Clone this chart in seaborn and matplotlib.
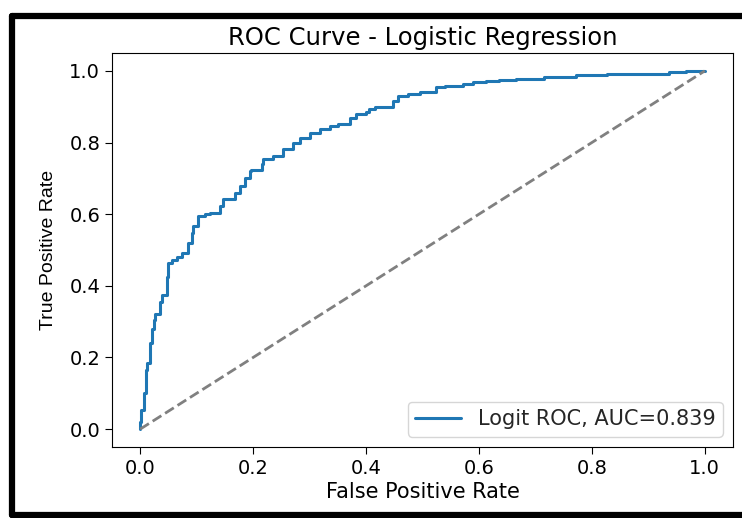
# ROC curve for the logistic regression model
import numpy as np
import pandas as pd
import matplotlib
matplotlib.use("Agg")
import matplotlib.pyplot as plt
import seaborn as sns
from matplotlib.lines import Line2D

# ROC points
fpr = [0.0, 0.002, 0.006, 0.010, 0.012, 0.018, 0.021, 0.024, 0.027, 0.035,
       0.038, 0.041, 0.048, 0.050, 0.056, 0.065, 0.074, 0.085, 0.091, 0.094,
       0.103, 0.115, 0.124, 0.141, 0.147, 0.153, 0.168, 0.177, 0.186, 0.194,
       0.197, 0.215, 0.218, 0.236, 0.253, 0.271, 0.283, 0.300, 0.318, 0.336,
       0.350, 0.371, 0.383, 0.400, 0.406, 0.415, 0.448, 0.456, 0.474, 0.495,
       0.524, 0.539, 0.571, 0.589, 0.612, 0.636, 0.665, 0.716, 0.772, 0.827,
       0.936, 0.966, 0.989, 1.0]
tpr = [0.0, 0.02, 0.053, 0.10, 0.165, 0.185, 0.24, 0.28, 0.305, 0.32,
       0.356, 0.373, 0.373, 0.426, 0.465, 0.473, 0.48, 0.493, 0.52, 0.548,
       0.567, 0.595, 0.60, 0.602, 0.623, 0.641, 0.643, 0.66, 0.679, 0.702,
       0.721, 0.723, 0.74, 0.753, 0.763, 0.782, 0.80, 0.814, 0.828, 0.838,
       0.847, 0.852, 0.868, 0.88, 0.884, 0.895, 0.898, 0.917, 0.931, 0.936,
       0.94, 0.954, 0.959, 0.964, 0.97, 0.973, 0.975, 0.978, 0.984, 0.989,
       0.992, 0.996, 1.0, 1.0]
auc = 0.839
chance = [0.0, 1.0]

roc = pd.DataFrame({"fpr": fpr, "tpr": tpr})

sns.set_style("ticks")
plt.rcParams['font.family'] = ['DejaVu Sans']

fig = plt.figure(figsize=(7.42, 5.18), dpi=100)
ax = fig.add_axes([112/742, 1-447/518, (733-112)/742, (447-53)/518])

sns.lineplot(data=roc, x="fpr", y="tpr", ax=ax, sort=False, color="#1f77b4",
             linewidth=2.2, drawstyle="steps-pre", label="Logit ROC, AUC=%.3f" % auc)
sns.lineplot(x=chance, y=chance, ax=ax, color="gray", linestyle="--",
             linewidth=2)

ax.set_xlim(-0.05, 1.05)
ax.set_ylim(-0.05, 1.05)
ax.set_xticks([0, 0.2, 0.4, 0.6, 0.8, 1.0])
ax.set_yticks([0, 0.2, 0.4, 0.6, 0.8, 1.0])
ax.tick_params(labelsize=14, length=5, color="black", labelcolor="black")
for s in ax.spines.values():
    s.set_color("black")
ax.set_title("ROC Curve - Logistic Regression", fontsize=17.5, pad=6, color="black")
ax.set_xlabel("False Positive Rate", fontsize=15, color="black", labelpad=3)
ax.set_ylabel("True Positive Rate", fontsize=14, color="black",
              family=["Liberation Sans", "DejaVu Sans"], labelpad=9)
ax.legend(loc="lower right", fontsize=15, borderpad=0.35, handlelength=2.2)

# black screenshot frame (left, top, bottom edges)
for xs, ys in [([11.5, 11.5], [16, 515]), ([11.5, 760], [16, 16]), ([11.5, 760], [515, 515])]:
    fig.add_artist(Line2D([x/742 for x in xs], [1 - y/518 for y in ys],
                          transform=fig.transFigure, color="black", linewidth=4.5))

plt.savefig("out.png", dpi=100)
